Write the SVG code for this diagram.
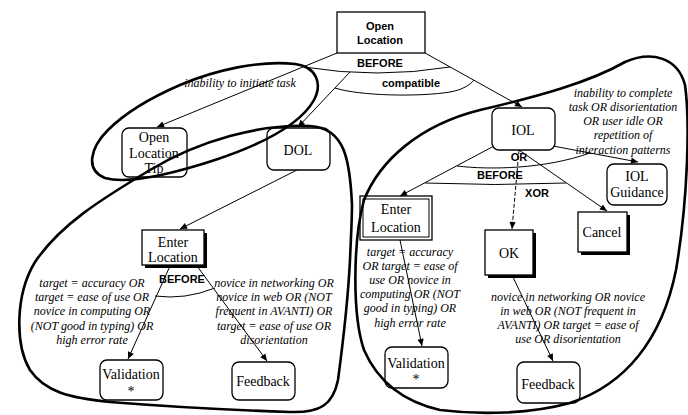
<svg xmlns="http://www.w3.org/2000/svg" width="688" height="415" viewBox="0 0 688 415">
<style>
.box{fill:#fff;stroke:#000;stroke-width:1.3}
.sh{fill:#000}
.lbl{font-family:"Liberation Serif","Times New Roman",serif;font-size:14px;text-anchor:middle;fill:#000}
.cond{font-family:"Liberation Serif","Times New Roman",serif;font-style:italic;font-size:12px;text-anchor:middle;fill:#000}
.op{font-family:"Liberation Sans",Arial,sans-serif;font-weight:bold;font-size:11px;text-anchor:middle;fill:#000}
.loop{fill:none;stroke:#000;stroke-width:2.6}
.edge{fill:none;stroke:#000;stroke-width:1}
</style>
<defs>
<marker id="ah" viewBox="0 0 10 10" refX="10" refY="5" markerWidth="8" markerHeight="7" markerUnits="userSpaceOnUse" orient="auto"><path d="M0,0.5 L10,5 L0,9.5 z" fill="#000"/></marker>
</defs>
<rect width="688" height="415" fill="#fff"/>

<g id="connectors">
<line class="edge" x1="337" y1="53" x2="157" y2="127" marker-end="url(#ah)"/>
<line class="edge" x1="350" y1="72" x2="298" y2="127" marker-end="url(#ah)"/>
<line class="edge" x1="425" y1="53" x2="522" y2="107" marker-end="url(#ah)"/>
<path class="edge" d="M304,67 Q377,79 450,67"/>
<path class="edge" d="M335,88 C360,96 420,97 450,92 C462,90 470,85 474,80"/>
<line class="edge" x1="297" y1="170" x2="180" y2="229" marker-end="url(#ah)"/>
<line class="edge" x1="170" y1="266" x2="128" y2="359" marker-end="url(#ah)"/>
<line class="edge" x1="197" y1="266" x2="267" y2="361" marker-end="url(#ah)"/>
<path class="edge" d="M155,296 Q185,300 215,288"/>
<line class="edge" x1="494" y1="146" x2="400" y2="196" marker-end="url(#ah)"/>
<line class="edge" x1="519" y1="150" x2="512" y2="229" stroke-dasharray="4,2" marker-end="url(#ah)"/>
<line class="edge" x1="519" y1="150" x2="607" y2="211" marker-end="url(#ah)"/>
<line class="edge" x1="553" y1="146" x2="638" y2="162" marker-end="url(#ah)"/>
<path class="edge" d="M457,166 C490,170 545,169 590,153"/>
<path class="edge" d="M425,183 Q495,186 566,183"/>
<line class="edge" x1="400" y1="240" x2="422" y2="346" marker-end="url(#ah)"/>
<line class="edge" x1="512" y1="275" x2="553" y2="361" marker-end="url(#ah)"/>
</g>

<g id="open-location">
<rect class="box" x="337" y="12" width="88" height="41"/>
<text class="op" x="380" y="30" font-size="12">Open</text>
<text class="op" x="380" y="44" font-size="12">Location</text>
</g>
<g id="op-labels-top">
<text class="op" x="380" y="67">BEFORE</text>
<text class="op" x="411" y="87">compatible</text>
<text class="cond" x="240" y="87">inability to initiate task</text>
</g>

<g id="open-location-tip">
<rect class="box" x="122" y="128" width="65" height="49" rx="7"/>
<text class="lbl" x="154" y="142" font-size="13">Open</text>
<text class="lbl" x="154" y="158" font-size="13">Location</text>
<text class="lbl" x="154" y="173" font-size="13">Tip</text>
</g>

<g id="dol">
<rect class="box" x="267" y="128" width="63" height="42" rx="7"/>
<text class="lbl" x="298" y="155" font-size="15">DOL</text>
</g>

<g id="enter-location-left">
<rect class="sh" x="145" y="233" width="62" height="35"/>
<rect class="box" x="142" y="230" width="62" height="35"/>
<text class="lbl" x="173" y="247">Enter</text>
<text class="lbl" x="173" y="262">Location</text>
</g>
<g id="left-labels">
<text class="op" x="182" y="283">BEFORE</text>
<text class="cond" x="92" y="287">target = accuracy OR</text>
<text class="cond" x="92" y="301">target = ease of use OR</text>
<text class="cond" x="92" y="315">novice in computing OR</text>
<text class="cond" x="92" y="330">(NOT good in typing) OR</text>
<text class="cond" x="92" y="344">high error rate</text>
<text class="cond" x="274" y="287">novice in networking OR</text>
<text class="cond" x="274" y="301">novice in web OR (NOT</text>
<text class="cond" x="274" y="315">frequent in AVANTI) OR</text>
<text class="cond" x="274" y="330">target = ease of use OR</text>
<text class="cond" x="274" y="344">disorientation</text>
</g>

<g id="validation-left">
<rect class="box" x="100" y="360" width="63" height="40" rx="7"/>
<text class="lbl" x="131" y="379">Validation</text>
<text class="lbl" x="131" y="396">*</text>
</g>

<g id="feedback-left">
<rect class="box" x="232" y="362" width="63" height="38" rx="7"/>
<text class="lbl" x="263" y="386">Feedback</text>
</g>

<g id="iol">
<rect class="box" x="492" y="108" width="63" height="42" rx="7"/>
<text class="lbl" x="523" y="135" font-size="15">IOL</text>
</g>
<g id="iol-labels">
<text class="cond" x="623" y="97">inability to complete</text>
<text class="cond" x="623" y="111">task OR disorientation</text>
<text class="cond" x="623" y="125">OR user idle OR</text>
<text class="cond" x="623" y="139">repetition of</text>
<text class="cond" x="623" y="154">interaction patterns</text>
<text class="op" x="519" y="161">OR</text>
<text class="op" x="500" y="179">BEFORE</text>
<text class="op" x="537" y="197">XOR</text>
</g>

<g id="iol-guidance">
<rect class="box" x="607" y="164" width="60" height="41" rx="7"/>
<text class="lbl" x="637" y="181" font-size="13">IOL</text>
<text class="lbl" x="637" y="197" font-size="13">Guidance</text>
</g>

<g id="enter-location-right">
<rect class="box" x="360" y="196" width="72" height="44"/>
<rect fill="none" stroke="#000" stroke-width="1" x="363" y="199" width="66" height="38"/>
<text class="lbl" x="396" y="214">Enter</text>
<text class="lbl" x="396" y="232">Location</text>
</g>

<g id="ok">
<rect class="sh" x="488" y="233" width="48" height="45"/>
<rect class="box" x="485" y="230" width="48" height="45"/>
<text class="lbl" x="509" y="258" font-size="15">OK</text>
</g>

<g id="cancel">
<rect class="sh" x="581" y="215" width="49" height="40"/>
<rect class="box" x="578" y="212" width="49" height="40"/>
<text class="lbl" x="602" y="237">Cancel</text>
</g>

<g id="right-labels">
<text class="cond" x="410" y="256">target = accuracy</text>
<text class="cond" x="410" y="270">OR target = ease of</text>
<text class="cond" x="410" y="284">use OR novice in</text>
<text class="cond" x="410" y="298">computing OR (NOT</text>
<text class="cond" x="410" y="312">good in typing) OR</text>
<text class="cond" x="410" y="327">high error rate</text>
<text class="cond" x="568" y="301">novice in networking OR novice</text>
<text class="cond" x="568" y="315">in web OR (NOT frequent in</text>
<text class="cond" x="568" y="329">AVANTI) OR target = ease of</text>
<text class="cond" x="568" y="343">use OR disorientation</text>
</g>

<g id="validation-right">
<rect class="box" x="385" y="347" width="63" height="41" rx="7"/>
<text class="lbl" x="416" y="368">Validation</text>
<text class="lbl" x="416" y="384">*</text>
</g>

<g id="feedback-right">
<rect class="box" x="517" y="362" width="63" height="41" rx="7"/>
<text class="lbl" x="548" y="389">Feedback</text>
</g>

<g id="loops">
<path class="loop" d="M180,85 C215,70 260,60 295,64 C318,67 322,85 314,100 C300,125 260,145 215,160 C175,173 130,185 105,178 C85,170 90,148 108,130 C125,113 150,98 180,85 Z"/>
<path class="loop" d="M352,205 C350,160 345,128 310,126 C260,124 200,140 150,170 C100,200 60,225 35,262 C15,295 15,345 30,370 C45,392 70,398 110,402 C160,406 230,410 290,412 C320,413 333,405 338,380 C342,350 348,300 350,260 C351,235 352,220 352,205 Z"/>
<path class="loop" d="M364,200 C380,160 420,125 480,110 C540,96 590,82 625,62 C652,50 678,58 685,85 C690,120 688,200 676,270 C662,340 625,385 570,403 C530,414 480,415 440,410 C405,402 378,382 364,350 C352,315 353,240 364,200 Z"/>
</g>
</svg>
